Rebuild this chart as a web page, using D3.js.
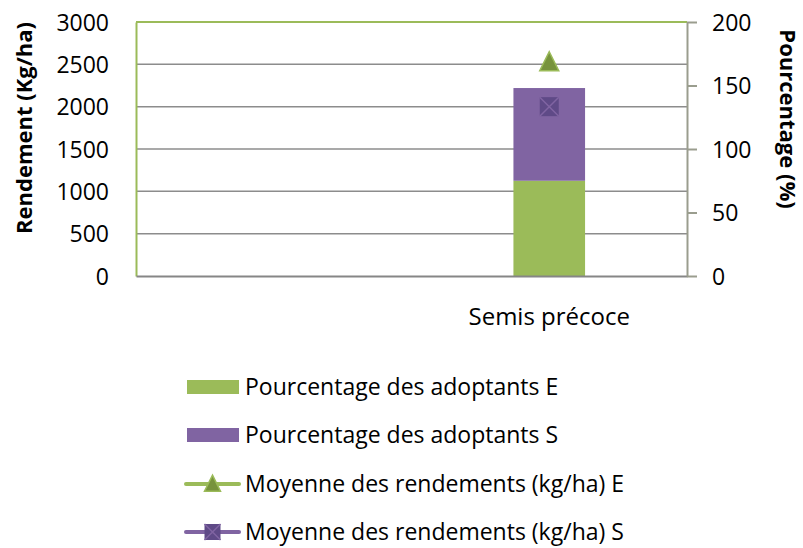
<!DOCTYPE html>
<html>
<head>
<meta charset="utf-8">
<script src="https://cdn.jsdelivr.net/npm/d3@7/dist/d3.min.js"></script>
<style>
  body { margin: 0; background: #fff; }
  text { font-family: "Open Sans", sans-serif; fill: #000; }
</style>
</head>
<body>
<script>
// Categories and series
var categories = ["", "Semis précoce"];
var adoptantsE = [null, 75];      // Pourcentage des adoptants E (%)
var adoptantsS = [null, 73];      // Pourcentage des adoptants S (%)
var rendementE = [null, 2525];    // Moyenne des rendements (kg/ha) E
var rendementS = [null, 2000];    // Moyenne des rendements (kg/ha) S
var leftTicks = [0, 500, 1000, 1500, 2000, 2500, 3000];
var rightTicks = [0, 50, 100, 150, 200];
var legendLabels = [
  "Pourcentage des adoptants E",
  "Pourcentage des adoptants S",
  "Moyenne des rendements (kg/ha) E",
  "Moyenne des rendements (kg/ha) S"
];

var width = 803, height = 548;
var plot = {left: 136, right: 687, top: 22, bottom: 276};

var green = "#9bbb59", purple = "#8064a2";
var darkGreen = "#77933c", darkPurple = "#5f4a87";

var svg = d3.select(document.body).append("svg")
  .attr("width", width).attr("height", height);

// Scales
var x = d3.scaleBand().domain(categories).range([plot.left, plot.right]);
var yLeft = d3.scaleLinear().domain([0, 3000]).range([plot.bottom, plot.top]);
var yRight = d3.scaleLinear().domain([0, 200]).range([plot.bottom, plot.top]);

// Gridlines (left axis values)
svg.append("g")
  .selectAll("line")
  .data(leftTicks.slice(1, -1))
  .enter().append("line")
  .attr("x1", plot.left).attr("x2", plot.right)
  .attr("y1", function(d) { return yLeft(d); })
  .attr("y2", function(d) { return yLeft(d); })
  .attr("stroke", "#8c8c8c").attr("stroke-width", 1.5);

// Stacked bars on the right axis
var barW = x.bandwidth() * 0.26;
var bars = svg.append("g");
categories.forEach(function(c, i) {
  if (adoptantsE[i] == null) return;
  var cx = x(c) + x.bandwidth() / 2;
  bars.append("rect")
    .attr("x", cx - barW / 2).attr("width", barW)
    .attr("y", yRight(adoptantsE[i]))
    .attr("height", yRight(0) - yRight(adoptantsE[i]))
    .attr("fill", green);
  bars.append("rect")
    .attr("x", cx - barW / 2).attr("width", barW)
    .attr("y", yRight(adoptantsE[i] + adoptantsS[i]))
    .attr("height", yRight(adoptantsE[i]) - yRight(adoptantsE[i] + adoptantsS[i]))
    .attr("fill", purple);
});

// Left axis (no ticks, labels only)
var leftAxis = svg.append("g")
  .attr("transform", "translate(" + plot.left + ",0)")
  .call(d3.axisLeft(yLeft).tickValues(leftTicks).tickFormat(d3.format("d"))
    .tickSize(0).tickPadding(27));
leftAxis.select(".domain").attr("stroke", green).attr("stroke-width", 2);
leftAxis.selectAll("text").style("font-size", "23px").attr("dy", "0.35em");

// Top border
svg.append("line")
  .attr("x1", plot.left).attr("x2", plot.right)
  .attr("y1", plot.top).attr("y2", plot.top)
  .attr("stroke", green).attr("stroke-width", 2);

// Bottom axis
var bottomAxis = svg.append("g")
  .attr("transform", "translate(0," + plot.bottom + ")")
  .call(d3.axisBottom(x).tickSize(0).tickPadding(32));
bottomAxis.select(".domain").attr("stroke", "#868686").attr("stroke-width", 2);
bottomAxis.selectAll("text").style("font-size", "24px");

// Right axis
var rightAxis = svg.append("g")
  .attr("transform", "translate(" + plot.right + ",0)")
  .call(d3.axisRight(yRight).tickValues(rightTicks).tickSize(10).tickPadding(15).tickSizeOuter(0));
rightAxis.select(".domain").attr("stroke", "#9a9d8e").attr("stroke-width", 2);
rightAxis.selectAll(".tick line").attr("stroke", "#9a9d8e").attr("stroke-width", 2);
rightAxis.selectAll("text").style("font-size", "23px").attr("dy", "0.35em");

// Axis titles
svg.append("text")
  .attr("transform", "translate(32,128) rotate(-90)")
  .attr("text-anchor", "middle")
  .style("font-size", "22px").style("font-weight", "bold")
  .text("Rendement (Kg/ha)");
svg.append("text")
  .attr("transform", "translate(780,119) rotate(90)")
  .attr("text-anchor", "middle")
  .style("font-size", "22px").style("font-weight", "bold")
  .text("Pourcentage (%)");

// Markers
function triangle(g, cx, cy, s, fill, stroke) {
  g.append("path")
    .attr("d", "M" + cx + "," + (cy - s * 0.55) + "L" + (cx + s / 2) + "," + (cy + s * 0.45) + "L" + (cx - s / 2) + "," + (cy + s * 0.45) + "Z")
    .attr("fill", fill).attr("stroke", stroke).attr("stroke-width", 1.5);
}
function crossSquare(g, cx, cy, s, fill, stroke) {
  g.append("rect")
    .attr("x", cx - s / 2).attr("y", cy - s / 2).attr("width", s).attr("height", s)
    .attr("fill", fill);
  g.append("path")
    .attr("d", "M" + (cx - s / 2) + "," + (cy - s / 2) + "L" + (cx + s / 2) + "," + (cy + s / 2) +
               "M" + (cx + s / 2) + "," + (cy - s / 2) + "L" + (cx - s / 2) + "," + (cy + s / 2))
    .attr("stroke", stroke).attr("stroke-width", 1.5);
}

var marks = svg.append("g");
categories.forEach(function(c, i) {
  var cx = x(c) + x.bandwidth() / 2;
  if (rendementE[i] != null) triangle(marks, cx, yLeft(rendementE[i]), 19, darkGreen, green);
  if (rendementS[i] != null) crossSquare(marks, cx, yLeft(rendementS[i]), 19, darkPurple, purple);
});

// Legend
var legend = svg.append("g");
var rowY = [387, 435, 484, 532];
legendLabels.forEach(function(label, i) {
  var y = rowY[i];
  if (i < 2) {
    legend.append("rect")
      .attr("x", 187).attr("y", y - 7).attr("width", 52).attr("height", 14)
      .attr("fill", i === 0 ? green : purple);
  } else {
    legend.append("line")
      .attr("x1", 186).attr("x2", 239).attr("y1", y).attr("y2", y)
      .attr("stroke", i === 2 ? green : purple).attr("stroke-width", 4)
      .attr("stroke-linecap", "round");
    if (i === 2) triangle(legend, 212.5, y, 16, darkGreen, green);
    else crossSquare(legend, 212.5, y, 16, darkPurple, purple);
  }
  legend.append("text")
    .attr("x", 245).attr("y", y).attr("dy", "0.35em")
    .style("font-size", "23px")
    .text(label);
});
</script>
</body>
</html>
